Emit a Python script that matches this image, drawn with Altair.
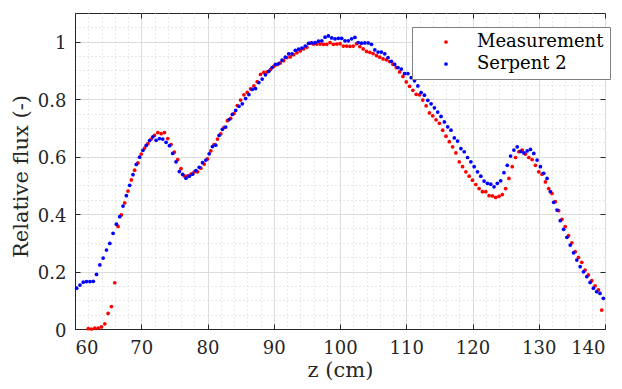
import altair as alt
import pandas as pd

# ---- data ----
series_names = ["Measurement", "Serpent 2"]
measurement_start, serpent_start, step = 62.0, 60.25, 0.5

measurement = [
    0.001, 0.000, 0.003, 0.003, 0.007, 0.018, 0.054, 0.078, 0.161, 0.357,
    0.397, 0.439, 0.480, 0.519, 0.553, 0.578, 0.609, 0.630, 0.645, 0.661,
    0.674, 0.684, 0.680, 0.684, 0.663, 0.642, 0.616, 0.590, 0.558, 0.533,
    0.533, 0.539, 0.547, 0.547, 0.560, 0.574, 0.592, 0.620, 0.642, 0.661,
    0.679, 0.702, 0.725, 0.733, 0.750, 0.778, 0.797, 0.815, 0.824, 0.836,
    0.846, 0.861, 0.886, 0.893, 0.895, 0.903, 0.914, 0.920, 0.926, 0.934,
    0.945, 0.947, 0.955, 0.962, 0.968, 0.975, 0.981, 0.995, 0.992, 0.992,
    0.992, 0.991, 0.991, 0.997, 0.991, 0.992, 0.993, 0.985, 0.985, 0.984,
    0.985, 0.993, 0.983, 0.975, 0.966, 0.963, 0.959, 0.952, 0.946, 0.940,
    0.937, 0.931, 0.922, 0.910, 0.895, 0.879, 0.860, 0.845, 0.831, 0.817,
    0.815, 0.797, 0.777, 0.752, 0.742, 0.728, 0.716, 0.692, 0.671, 0.652,
    0.634, 0.613, 0.582, 0.565, 0.547, 0.532, 0.518, 0.503, 0.489, 0.478,
    0.478, 0.464, 0.463, 0.458, 0.462, 0.468, 0.489, 0.524, 0.565, 0.597,
    0.617, 0.623, 0.609, 0.597, 0.590, 0.570, 0.547, 0.539, 0.512, 0.489,
    0.472, 0.443, 0.412, 0.382, 0.356, 0.325, 0.300, 0.269, 0.249, 0.232,
    0.205, 0.188, 0.168, 0.150, 0.136, 0.066,
]

serpent = [
    0.142, 0.153, 0.163, 0.165, 0.165, 0.166, 0.190, 0.223, 0.247, 0.275,
    0.298, 0.333, 0.365, 0.391, 0.428, 0.464, 0.500, 0.537, 0.573, 0.598,
    0.622, 0.639, 0.656, 0.669, 0.657, 0.663, 0.661, 0.650, 0.638, 0.611,
    0.582, 0.548, 0.538, 0.525, 0.532, 0.539, 0.551, 0.563, 0.579, 0.588,
    0.610, 0.635, 0.640, 0.674, 0.695, 0.703, 0.729, 0.747, 0.761, 0.775,
    0.784, 0.802, 0.816, 0.834, 0.837, 0.858, 0.870, 0.885, 0.897, 0.910,
    0.921, 0.924, 0.936, 0.946, 0.958, 0.958, 0.970, 0.974, 0.978, 0.985,
    0.994, 0.996, 0.997, 1.002, 1.003, 1.016, 1.020, 1.013, 1.010, 1.012,
    1.012, 1.003, 1.003, 1.010, 1.015, 0.997, 0.995, 0.996, 0.996, 0.991,
    0.972, 0.964, 0.964, 0.958, 0.945, 0.932, 0.921, 0.910, 0.905, 0.889,
    0.889, 0.875, 0.864, 0.846, 0.823, 0.814, 0.796, 0.784, 0.770, 0.755,
    0.740, 0.721, 0.704, 0.692, 0.665, 0.654, 0.628, 0.617, 0.597, 0.582,
    0.565, 0.547, 0.532, 0.515, 0.507, 0.504, 0.495, 0.507, 0.516, 0.544,
    0.570, 0.602, 0.623, 0.634, 0.618, 0.613, 0.620, 0.625, 0.611, 0.588,
    0.565, 0.542, 0.524, 0.478, 0.441, 0.414, 0.377, 0.347, 0.319, 0.292,
    0.265, 0.240, 0.217, 0.199, 0.182, 0.162, 0.142, 0.130, 0.124, 0.107,
]

x_major = [60, 70, 80, 90, 100, 110, 120, 130, 140]
y_major = [0, 0.2, 0.4, 0.6, 0.8, 1.0]
x_minor = [62, 64, 66, 68, 72, 74, 76, 78, 82, 84, 86, 88, 92, 94, 96, 98,
           102, 104, 106, 108, 112, 114, 116, 118, 122, 124, 126, 128,
           132, 134, 136, 138]
y_minor = [0.05, 0.1, 0.15, 0.25, 0.3, 0.35, 0.45, 0.5, 0.55, 0.65, 0.7, 0.75,
           0.85, 0.9, 0.95, 1.05]

rows = []
for i, v in enumerate(measurement):
    rows.append({"z": measurement_start + step * i, "flux": v, "series": series_names[0]})
for i, v in enumerate(serpent):
    rows.append({"z": serpent_start + step * i, "flux": v, "series": series_names[1]})
df = pd.DataFrame(rows)

W, H = 530, 316
FONT = "DejaVu Serif"
INK = "#262626"

xs = alt.Scale(domain=[60, 140], nice=False, zero=False)
ys = alt.Scale(domain=[0, 1.1], nice=False, zero=False)

base = alt.Chart(df)

# minor dotted grid
minor = base.mark_circle(opacity=0).encode(
    x=alt.X("z:Q", scale=xs, axis=alt.Axis(
        orient="bottom", values=x_minor, grid=True, gridColor="#d2d2d2",
        gridDash=[1, 3], gridWidth=1, ticks=False, labels=False,
        domain=False, title=None)),
    y=alt.Y("flux:Q", scale=ys, axis=alt.Axis(
        orient="left", values=y_minor, grid=True, gridColor="#d2d2d2",
        gridDash=[1, 3], gridWidth=1, ticks=False, labels=False,
        domain=False, title=None)),
)

def tick_axis(orient, values, offset):
    return alt.Axis(orient=orient, offset=offset, values=values, grid=False,
                    ticks=True, tickSize=5, tickColor=INK, tickWidth=1,
                    labels=False, domain=False, title=None)

# inward ticks on bottom & left
ticks_a = base.mark_circle(opacity=0).encode(
    x=alt.X("z:Q", scale=xs, axis=tick_axis("top", x_major, -H)),
    y=alt.Y("flux:Q", scale=ys, axis=tick_axis("right", y_major, -W)),
)
# inward ticks on top & right
ticks_b = base.mark_circle(opacity=0).encode(
    x=alt.X("z:Q", scale=xs, axis=tick_axis("bottom", x_major, -H)),
    y=alt.Y("flux:Q", scale=ys, axis=tick_axis("left", y_major, -W)),
)

main = base.mark_circle(size=14, opacity=1).encode(
    x=alt.X("z:Q", scale=xs, axis=alt.Axis(
        orient="bottom", values=x_major, grid=True, gridColor="#dcdcdc",
        gridWidth=1, ticks=False, domain=True, domainColor=INK,
        domainWidth=1, labelFontSize=18, labelColor=INK,
        labelPadding=10, title="z (cm)", titleFontSize=21,
        titleFontWeight="normal", titleColor=INK, titleX=W / 2, titleY=47,
        titleBaseline="alphabetic", titleAlign="center")),
    y=alt.Y("flux:Q", scale=ys, axis=alt.Axis(
        orient="left", values=y_major, format=".1~f", grid=True,
        gridColor="#dcdcdc", gridWidth=1, ticks=False, domain=True,
        domainColor=INK, domainWidth=1, labelFontSize=18,
        labelColor=INK, labelPadding=9, labelOffset=2,
        title="Relative flux (-)",
        titleFontSize=21, titleFontWeight="normal",
        titleColor=INK, titleX=-54, titleY=H / 2 + 5, titleAngle=270,
        titleBaseline="middle", titleAlign="center")),
    color=alt.Color("series:N", scale=alt.Scale(
        domain=series_names, range=["#ff0000", "#0000ff"]),
        legend=alt.Legend(
            orient="none", legendX=337, legendY=14, title=None,
            labelFontSize=18, labelColor="#000000",
            symbolType="circle", symbolSize=14, symbolStrokeWidth=0,
            padding=6, rowPadding=4, symbolOffset=19, labelOffset=22,
            strokeColor="#808080", fillColor="#ffffff")),
)

chart = alt.layer(minor, ticks_a, ticks_b, main).resolve_axis(
    x="independent", y="independent"
).properties(
    width=W, height=H,
    autosize=alt.AutoSizeParams(type="none"),
    padding={"left": 75, "top": 13, "right": 17, "bottom": 60},
    background="white",
).configure(font=FONT).configure_axis(
    labelFont=FONT, titleFont=FONT
).configure_legend(labelFont=FONT).configure_view(stroke=INK, strokeWidth=1)

chart.save("out.html", embed_options={"renderer": "svg", "actions": False})
